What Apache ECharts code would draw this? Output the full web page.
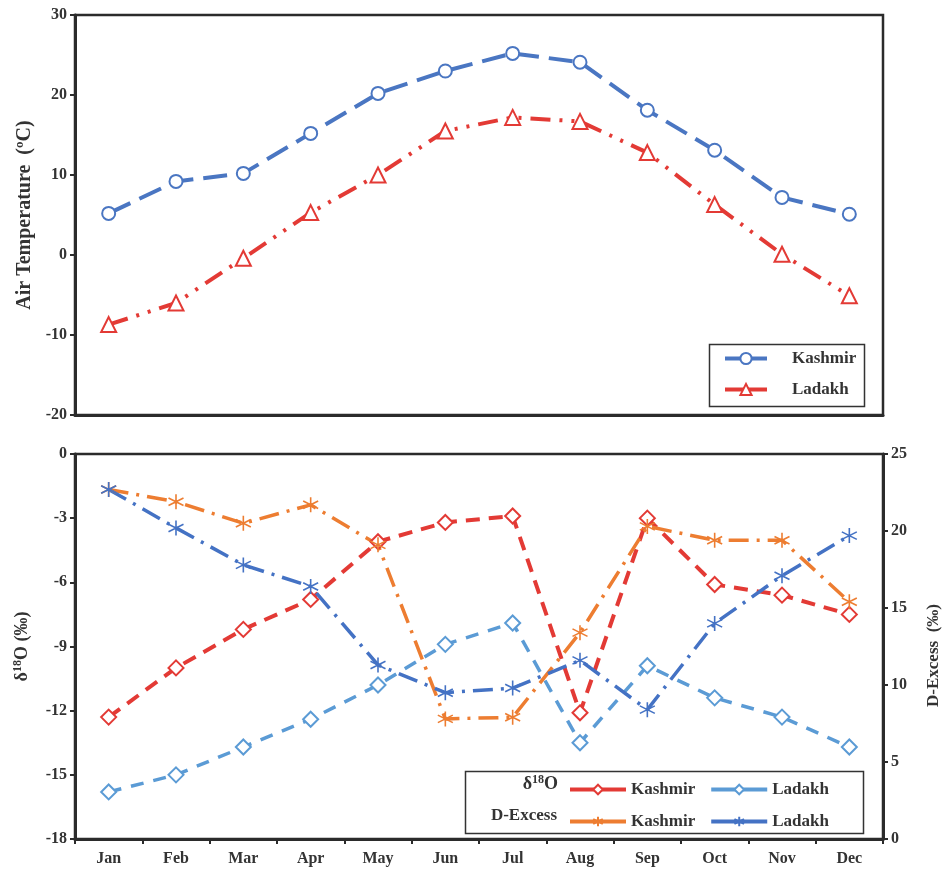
<!DOCTYPE html>
<html>
<head>
<meta charset="utf-8">
<script src="https://cdn.jsdelivr.net/npm/echarts@6/dist/echarts.min.js"></script>
<style>
  html, body { margin: 0; padding: 0; background: #fff; }
  #chart { width: 945px; height: 875px; }
</style>
</head>
<body>
<div id="chart"></div>
<script>
// monthly categories
const months = ['Jan', 'Feb', 'Mar', 'Apr', 'May', 'Jun', 'Jul', 'Aug', 'Sep', 'Oct', 'Nov', 'Dec'];

// air temperature (°C)
const tempKashmir = [5.2, 9.2, 10.2, 15.2, 20.2, 23.0, 25.2, 24.1, 18.1, 13.1, 7.2, 5.1];
const tempLadakh = [-8.7, -6.0, -0.4, 5.3, 10.0, 15.5, 17.2, 16.7, 12.8, 6.3, 0.1, -5.1];

// δ18O (‰)
const d18oKashmir = [-12.3, -10.0, -8.2, -6.8, -4.1, -3.2, -2.9, -12.1, -3.0, -6.1, -6.6, -7.5];
const d18oLadakh = [-15.8, -15.0, -13.7, -12.4, -10.8, -8.9, -7.9, -13.5, -9.9, -11.4, -12.3, -13.7];

// D-Excess (‰)
const dexKashmir = [22.7, 21.9, 20.5, 21.7, 19.1, 7.8, 7.9, 13.4, 20.3, 19.4, 19.4, 15.4];
const dexLadakh = [22.7, 20.2, 17.8, 16.4, 11.3, 9.5, 9.8, 11.6, 8.4, 14.0, 17.1, 19.7];

const FONT = 'Liberation Serif';
const AXIS_COLOR = '#2b2b2b';
const TXT = '#333';

// asterisk marker (Excel style star)
const STAR = 'path://M10,0 L10,20 M1.34,5 L18.66,15 M1.34,15 L18.66,5';

const chart = echarts.init(document.getElementById('chart'));

function yAxisBase(extra) {
    return Object.assign({
        type: 'value',
        axisLine: { show: true, lineStyle: { color: AXIS_COLOR, width: 3 } },
        axisTick: { show: true, inside: false, length: 5, lineStyle: { color: AXIS_COLOR, width: 2 } },
        axisLabel: { color: TXT, fontFamily: FONT, fontWeight: 'bold', fontSize: 16, margin: 8 },
        splitLine: { show: false },
        nameLocation: 'middle',
        nameTextStyle: { color: TXT, fontFamily: FONT, fontWeight: 'bold', fontSize: 16 }
    }, extra);
}

function lineSeries(name, data, color, dash, symbol, size, xi, yi, width) {
    return {
        name: name, type: 'line', data: data,
        xAxisIndex: xi, yAxisIndex: yi,
        symbol: symbol, symbolSize: size,
        showSymbol: true,
        lineStyle: { color: color, width: width || 4, type: dash },
        itemStyle: { color: symbol === STAR ? 'none' : color, borderColor: color, borderWidth: 1.6 },
        emphasis: { disabled: true },
        z: 3
    };
}

const legendText = { color: TXT, fontFamily: FONT, fontWeight: 'bold', fontSize: 17 };
const legendLine = { type: 'solid', width: 4 };

const option = {
    backgroundColor: '#ffffff',
    animation: false,
    grid: [
        { left: 75, top: 15, width: 808, height: 400, show: true, borderColor: AXIS_COLOR, borderWidth: 2.5, outerBoundsMode: 'none' },
        { left: 75, top: 454, width: 808, height: 385, show: true, borderColor: AXIS_COLOR, borderWidth: 2.5, outerBoundsMode: 'none' }
    ],
    xAxis: [
        {
            type: 'category', data: months, gridIndex: 0,
            axisLine: { onZero: false, lineStyle: { color: AXIS_COLOR, width: 3 } },
            axisTick: { show: false }, axisLabel: { show: false }
        },
        {
            type: 'category', data: months, gridIndex: 1,
            axisLine: { onZero: false, lineStyle: { color: AXIS_COLOR, width: 3 } },
            axisTick: { show: true, length: 5, lineStyle: { color: AXIS_COLOR, width: 2 } },
            axisLabel: { color: TXT, fontFamily: FONT, fontWeight: 'bold', fontSize: 16, margin: 12 }
        }
    ],
    yAxis: [
        yAxisBase({ gridIndex: 0, min: -20, max: 30, interval: 10, name: 'Air Temperature  (ºC)', nameGap: 38,
            nameTextStyle: { color: TXT, fontFamily: FONT, fontWeight: 'bold', fontSize: 20 } }),
        yAxisBase({ gridIndex: 1, min: -18, max: 0, interval: 3, name: '{a|δ}{s|18}{a|O (‰)}', nameGap: 42,
            nameTextStyle: { color: TXT, fontFamily: FONT, fontWeight: 'bold', fontSize: 18,
                rich: {
                    a: { color: TXT, fontFamily: FONT, fontWeight: 'bold', fontSize: 18 },
                    s: { color: TXT, fontFamily: FONT, fontWeight: 'bold', fontSize: 12, padding: [0, 0, 9, 0] }
                } } }),
        yAxisBase({ gridIndex: 1, position: 'right', min: 0, max: 25, interval: 5, name: 'D-Excess  (‰)', nameGap: 42, nameRotate: 90,
            nameTextStyle: { color: TXT, fontFamily: FONT, fontWeight: 'bold', fontSize: 17, padding: [0, 18, 0, 0] } })
    ],
    legend: [
        {
            orient: 'vertical', left: 718, top: 345, itemWidth: 42, itemHeight: 14, itemGap: 14,
            textStyle: Object.assign({}, legendText, { padding: [0, 0, 0, 20] }),
            lineStyle: legendLine,
            data: ['Kashmir', 'Ladakh']
        },
        {
            orient: 'horizontal', left: 563, top: 776, itemWidth: 56, itemHeight: 12, itemGap: 14,
            textStyle: Object.assign({}, legendText, { width: 86 }),
            lineStyle: legendLine,
            formatter: n => n.replace(/^.* /, ''),
            data: ['δ18O Kashmir', 'δ18O Ladakh']
        },
        {
            orient: 'horizontal', left: 563, top: 808, itemWidth: 56, itemHeight: 12, itemGap: 14,
            textStyle: Object.assign({}, legendText, { width: 86 }),
            lineStyle: legendLine,
            formatter: n => n.replace(/^.* /, ''),
            data: ['D-Excess Kashmir', 'D-Excess Ladakh']
        }
    ],
    graphic: [
        { type: 'rect', left: 707, top: 342, shape: { width: 155, height: 62 },
          style: { fill: 'none', stroke: '#333', lineWidth: 1.5 }, z: 10 },
        { type: 'rect', left: 463, top: 769, shape: { width: 398, height: 62 },
          style: { fill: 'none', stroke: '#333', lineWidth: 1.5 }, z: 10 },
        { type: 'text', right: 945 - 558, top: 774,
          style: { text: '{a|δ}{s|18}{a|O}', rich: {
              a: { fill: TXT, font: 'bold 18px "Liberation Serif"' },
              s: { fill: TXT, font: 'bold 12px "Liberation Serif"', padding: [0, 0, 8, 0] } } }, z: 10 },
        { type: 'text', right: 945 - 557, top: 807,
          style: { text: 'D-Excess', fill: TXT, font: 'bold 17px "Liberation Serif"' }, z: 10 }
    ],
    series: [
        lineSeries('Kashmir', tempKashmir, '#4a76c2', [24, 10], 'emptyCircle', 13, 0, 0),
        lineSeries('Ladakh', tempLadakh, '#e33a35', [20, 9, 3, 9, 3, 9], 'emptyTriangle', 15, 0, 0),
        lineSeries('δ18O Kashmir', d18oKashmir, '#e33a35', [14, 9], 'emptyDiamond', 15, 1, 1),
        lineSeries('δ18O Ladakh', d18oLadakh, '#5b9bd5', [13, 10], 'emptyDiamond', 15, 1, 1, 3.5),
        lineSeries('D-Excess Kashmir', dexKashmir, '#ed7d31', [20, 8, 3, 8], STAR, 15, 1, 2, 3.5),
        lineSeries('D-Excess Ladakh', dexLadakh, '#4472c4', [20, 8, 3, 8], STAR, 15, 1, 2, 3.5)
    ]
};

chart.setOption(option);
</script>
</body>
</html>
